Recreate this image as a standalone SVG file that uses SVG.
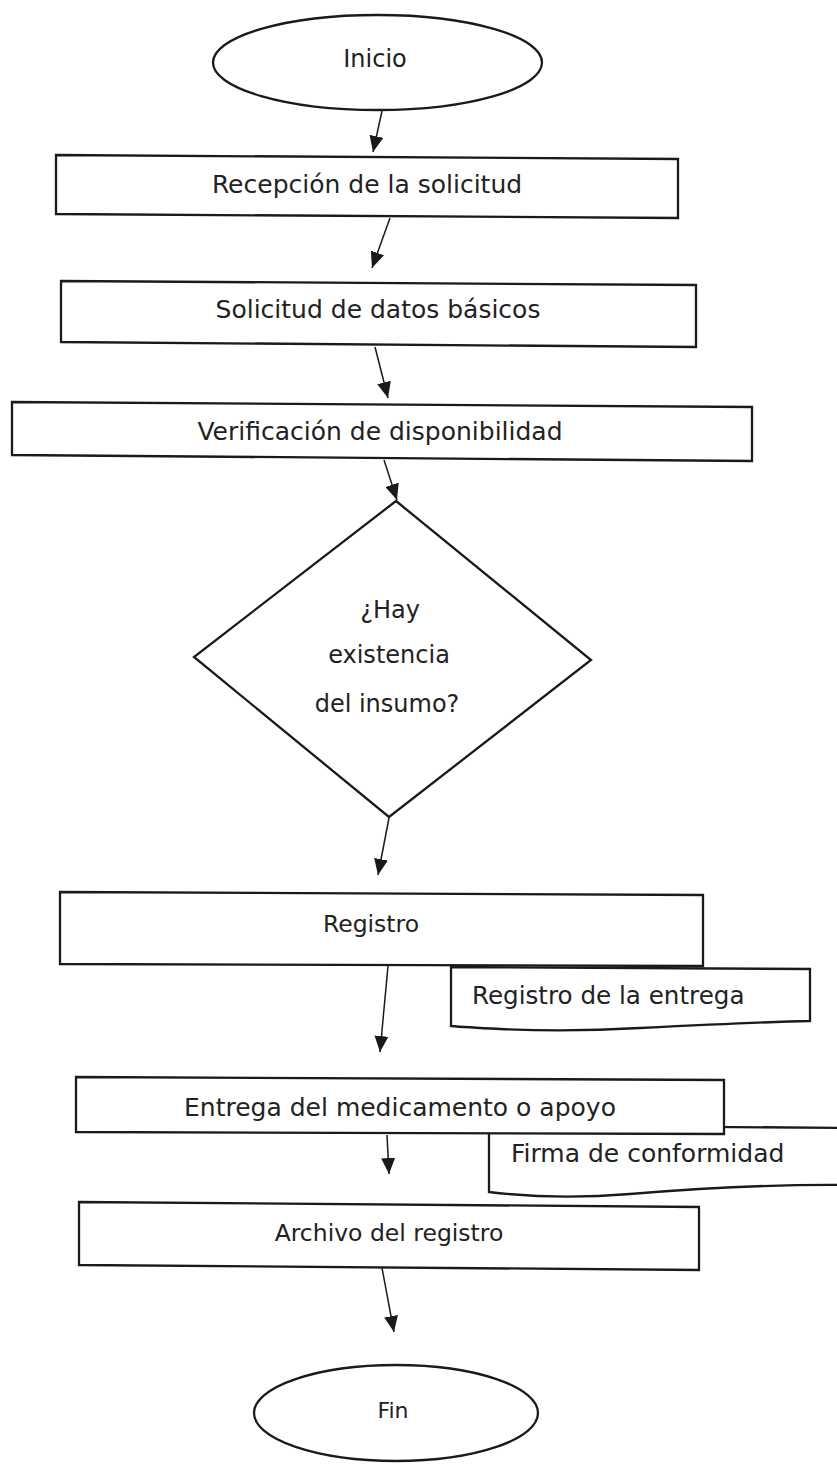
<svg xmlns="http://www.w3.org/2000/svg" width="837" height="1464" viewBox="0 0 837 1464">
<style>
.shape{fill:#fff;stroke:#1a1a1a;stroke-width:2.3;stroke-linejoin:miter}
.lbl{font-family:"DejaVu Sans","Liberation Sans",sans-serif;font-size:25px;fill:#222}
.mid{text-anchor:middle}
.edge{stroke:#1a1a1a;stroke-width:1.5;fill:none}
</style>
<defs>
<marker id="ah" viewBox="0 0 16 14" refX="16" refY="7" markerWidth="16" markerHeight="14" markerUnits="userSpaceOnUse" orient="auto">
<path d="M0,0 L16,7 L0,14 z" fill="#1a1a1a"/>
</marker>
</defs>
<rect width="837" height="1464" fill="#fff"/>

<g id="inicio">
<ellipse class="shape" cx="377.5" cy="62.5" rx="164.5" ry="47.5"/>
<text class="lbl mid" x="375" y="67" style="font-size:24px">Inicio</text>
</g>

<g id="recepcion">
<polygon class="shape" points="56,155 678,159 678,218 56,214"/>
<text class="lbl mid" x="367" y="193">Recepción de la solicitud</text>
</g>

<g id="solicitud">
<polygon class="shape" points="61,281 696,285 696,347 61,342"/>
<text class="lbl mid" x="378" y="318">Solicitud de datos básicos</text>
</g>

<g id="verificacion">
<polygon class="shape" points="12,402 752,407 752,461 12,455"/>
<text class="lbl mid" x="380" y="440">Verificación de disponibilidad</text>
</g>

<g id="decision">
<polygon class="shape" points="396,501 591,660 389,817 194,657"/>
<text class="lbl mid" x="390" y="618" style="font-size:24px">¿Hay</text>
<text class="lbl mid" x="389" y="663" style="font-size:24px">existencia</text>
<text class="lbl mid" x="387" y="712" style="font-size:24px">del insumo?</text>
</g>

<g id="registro-entrega">
<path class="shape" d="M451,967 L810,969 L810,1021 C760,1022 700,1025 640,1028 C590,1031 540,1031 500,1029 C480,1028 462,1027 451,1026 Z"/>
<text class="lbl" x="472" y="1004" style="font-size:24.6px">Registro de la entrega</text>
</g>

<g id="registro">
<polygon class="shape" points="60,892 703,895 703,966 60,964"/>
<text class="lbl mid" x="371" y="932" style="font-size:23.5px">Registro</text>
</g>

<g id="firma">
<path class="shape" d="M489,1125 L850,1128 L850,1185 C770,1184 690,1189 630,1194 C580,1198 530,1197 489,1192 Z"/>
<text class="lbl" x="511" y="1162">Firma de conformidad</text>
</g>

<g id="entrega">
<polygon class="shape" points="76,1077 724,1080 724,1134 76,1132"/>
<text class="lbl mid" x="400" y="1116">Entrega del medicamento o apoyo</text>
</g>

<g id="archivo">
<polygon class="shape" points="79,1202 699,1207 699,1270 79,1265"/>
<text class="lbl mid" x="389" y="1241" style="font-size:23.5px">Archivo del registro</text>
</g>

<g id="fin">
<ellipse class="shape" cx="396" cy="1413" rx="142" ry="48"/>
<text class="lbl mid" x="393" y="1418" style="font-size:22px">Fin</text>
</g>

<g id="connectors">
<line class="edge" x1="382" y1="111" x2="373" y2="152" marker-end="url(#ah)"/>
<line class="edge" x1="390" y1="218" x2="372" y2="268" marker-end="url(#ah)"/>
<line class="edge" x1="375" y1="347" x2="388" y2="398" marker-end="url(#ah)"/>
<line class="edge" x1="384" y1="460" x2="397" y2="500" marker-end="url(#ah)"/>
<line class="edge" x1="389" y1="818" x2="378" y2="875" marker-end="url(#ah)"/>
<line class="edge" x1="388" y1="966" x2="380" y2="1052" marker-end="url(#ah)"/>
<line class="edge" x1="387" y1="1135" x2="389" y2="1174" marker-end="url(#ah)"/>
<line class="edge" x1="382" y1="1268" x2="394" y2="1332" marker-end="url(#ah)"/>
</g>
</svg>
